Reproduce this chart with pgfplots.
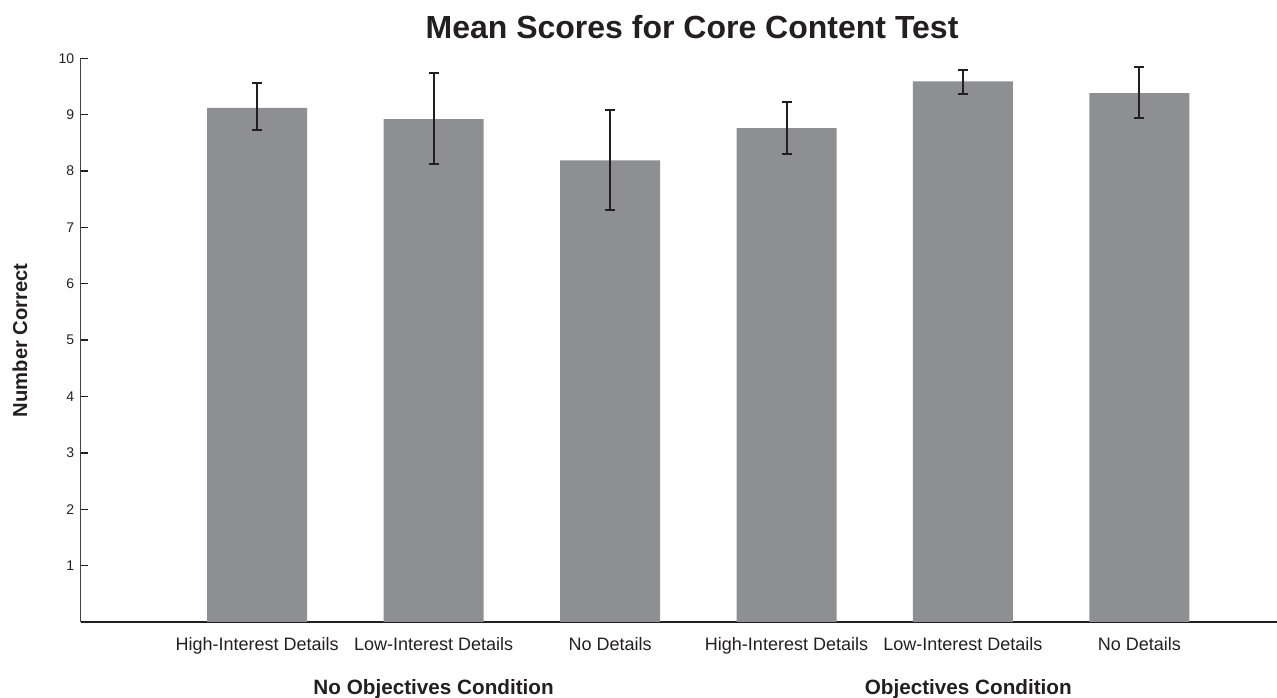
\documentclass[border=0pt]{standalone}
\usepackage{pgfplots}
\pgfplotsset{compat=1.18}
\usepackage{pgfplotstable}
\usepackage{fontspec}
\setmainfont{Liberation Sans}
\definecolor{barfill}{RGB}{142,143,147}
\definecolor{ink}{RGB}{35,31,32}
\pgfplotstableread{
x  y     ep    em
1  9.12  0.44  0.40
2  8.92  0.82  0.80
3  8.19  0.89  0.89
4  8.76  0.47  0.45
5  9.59  0.21  0.22
6  9.38  0.47  0.44
}\scores
\begin{document}
\begin{tikzpicture}
\begin{axis}[
  scale only axis,
  width=1196.3pt, height=563.7pt,
  xmin=0, xmax=6.78, ymin=0, ymax=10,
  clip=false,
  axis x line*=bottom, axis y line*=left,
  x axis line style={-, line width=2.6pt, color=ink},
  y axis line style={-, line width=1.4pt, color=ink!85},
  xtick={1,2,3,4,5,6},
  xticklabels={High-Interest Details, Low-Interest Details, No Details, High-Interest Details, Low-Interest Details, No Details},
  xtick style={draw=none},
  xticklabel style={anchor=base, yshift=-21.5pt, font=\fontsize{18}{21}\selectfont, text=ink},
  ytick={1,2,3,4,5,6,7,8,9,10},
  ytick style={line width=1.4pt, color=ink},
  tick align=inside,
  major tick length=7pt,
  yticklabel style={font=\fontsize{14}{16}\selectfont, text=ink, xshift=-3pt},
  /pgf/number format/assume math mode=true,
  ybar, bar width=100pt,
]
\addplot[fill=barfill, draw=none,
  error bars/.cd, y dir=both, y explicit,
  error bar style={line width=2pt, color=ink},
  error mark options={line width=2pt, mark size=5pt, color=ink, rotate=90}]
  table[x=x, y=y, y error plus=ep, y error minus=em]{\scores};
\node[anchor=base, font=\bfseries\fontsize{32}{38}\selectfont, text=ink] at (rel axis cs:0.511,1.036) {Mean Scores for Core Content Test};
\node[anchor=base, yshift=-72.5pt, font=\bfseries\fontsize{20.7}{24}\selectfont, text=ink] at (axis cs:2,0) {No Objectives Condition};
\node[anchor=base, yshift=-72.5pt, font=\bfseries\fontsize{20.7}{24}\selectfont, text=ink] at (axis cs:5.03,0) {Objectives Condition};
\node[rotate=90, anchor=center, font=\bfseries\fontsize{20.2}{24}\selectfont, text=ink] at ([xshift=-60.7pt]rel axis cs:0,0.5) {Number Correct};
\end{axis}
\pgfresetboundingbox
\path[use as bounding box] (-80.7pt,-76pt) rectangle (1196.3pt,622pt);
\end{tikzpicture}
\end{document}
